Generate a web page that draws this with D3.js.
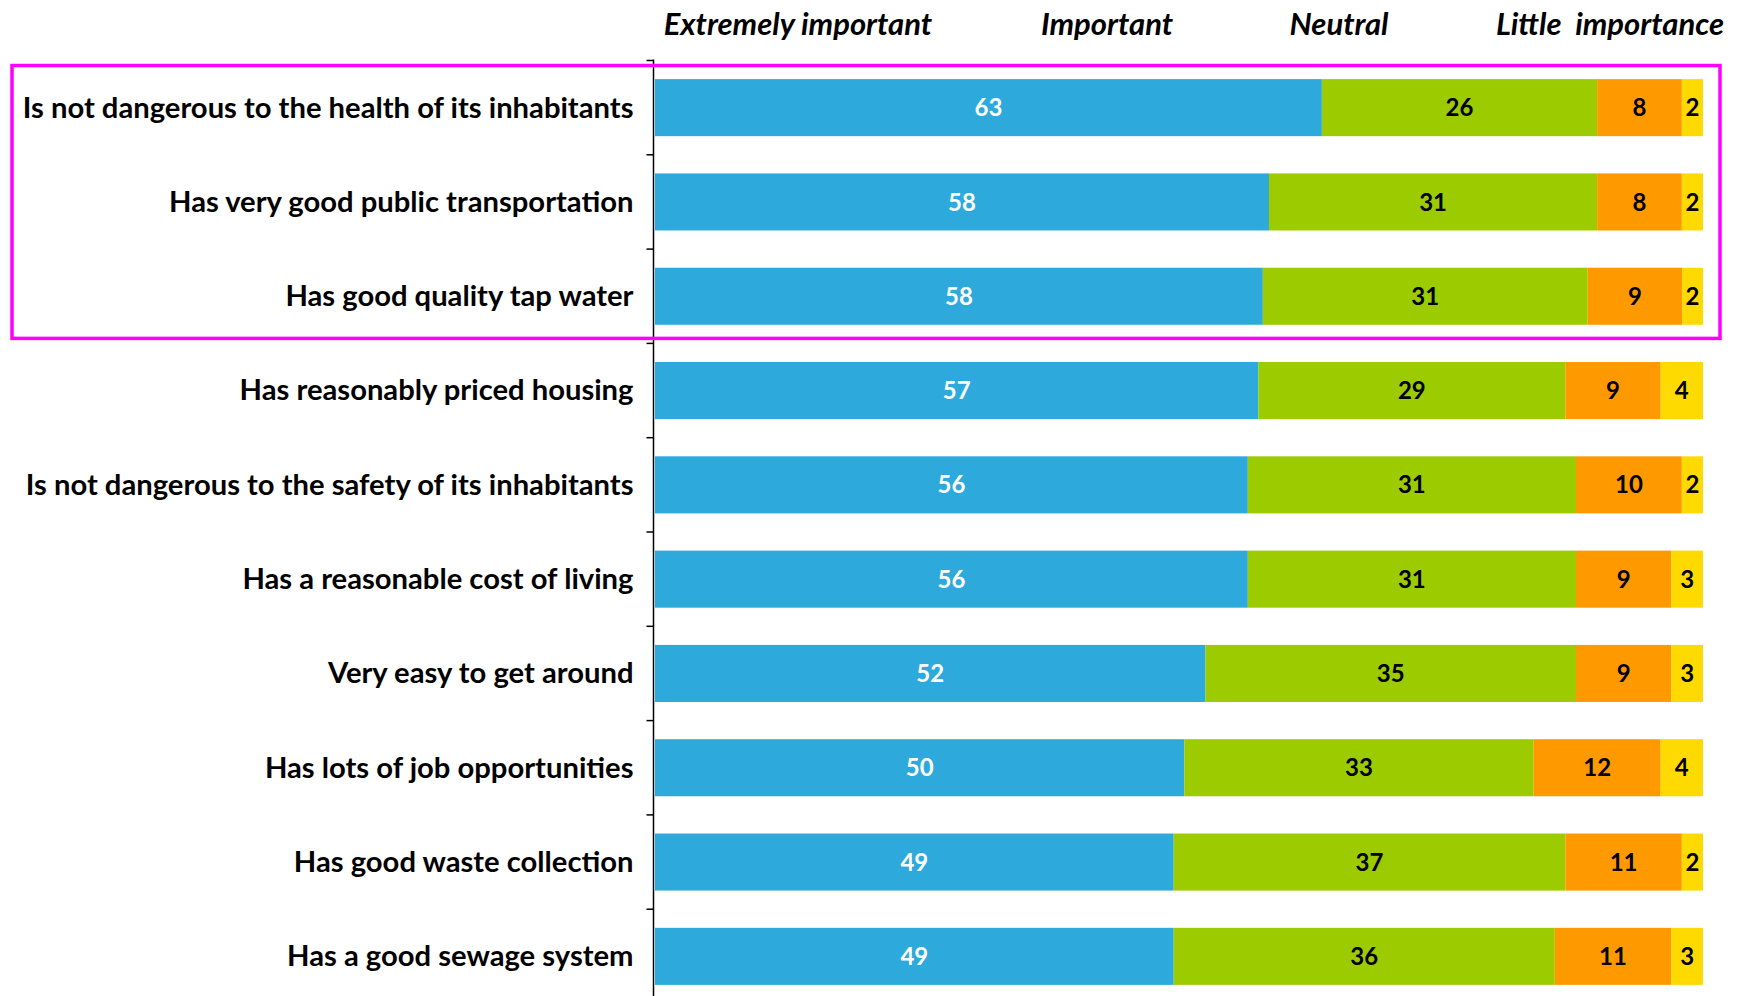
<!DOCTYPE html>
<html><head><meta charset="utf-8">
<script src="https://cdn.jsdelivr.net/npm/d3@7"></script>
<style>
html,body{margin:0;padding:0;background:#fff;}
svg{display:block;}
text{font-family:Lato,"Open Sans",sans-serif;}
</style></head>
<body>
<svg id="chart" width="1743" height="996"></svg>
<script>
const categories = [
  "Is not dangerous to the health of its inhabitants",
  "Has very good public transportation",
  "Has good quality tap water",
  "Has reasonably priced housing",
  "Is not dangerous to the safety of its inhabitants",
  "Has a reasonable cost of living",
  "Very easy to get around",
  "Has lots of job opportunities",
  "Has good waste collection",
  "Has a good sewage system"
];
const seriesNames = ["Extremely important", "Important", "Neutral", "Little  importance"];
const extremelyImportant = [63, 58, 58, 57, 56, 56, 52, 50, 49, 49];
const important          = [26, 31, 31, 29, 31, 31, 35, 33, 37, 36];
const neutral            = [ 8,  8,  9,  9, 10,  9,  9, 12, 11, 11];
const littleImportance   = [ 2,  2,  2,  4,  2,  3,  3,  4,  2,  3];
const highlighted = categories.slice(0, 3);

const colors = ["#2EA9DC", "#9CCB00", "#FF9900", "#FFDA00"];
const labelColors = ["#ffffff", "#000000", "#000000", "#000000"];
const legendX = [798, 1107, 1339, 1610];

(function () {
const rows = categories.map((c, i) => ({
  cat: c,
  s0: extremelyImportant[i], s1: important[i], s2: neutral[i], s3: littleImportance[i]
}));
const keys = ["s0", "s1", "s2", "s3"];
const stacked = d3.stack().keys(keys).offset(d3.stackOffsetExpand)(rows);

const svg = d3.select("#chart");
const plotLeft = 655, plotRight = 1703, plotTop = 60.5, step = 94.3;
const x = d3.scaleLinear().domain([0, 1]).range([plotLeft, plotRight]);
const y = d3.scaleBand().domain(categories).range([plotTop, plotTop + step * categories.length])
  .paddingInner(0.395).paddingOuter(0.1975);

// bars
const g = svg.append("g");
stacked.forEach((layer, li) => {
  g.selectAll(null).data(layer).enter().append("rect")
    .attr("x", d => x(d[0]))
    .attr("y", d => y(d.data.cat))
    .attr("width", d => x(d[1]) - x(d[0]))
    .attr("height", y.bandwidth())
    .attr("fill", colors[li]);
  g.selectAll(null).data(layer).enter().append("text")
    .attr("x", d => (x(d[0]) + x(d[1])) / 2)
    .attr("y", d => y(d.data.cat) + y.bandwidth() / 2)
    .attr("dy", "0.36em")
    .attr("text-anchor", "middle")
    .attr("font-weight", 700)
    .attr("font-size", 24)
    .attr("fill", labelColors[li])
    .text(d => d.data[keys[li]]);
});

// axis
const axis = d3.axisLeft(y).tickSize(0).tickPadding(20);
const ag = svg.append("g").attr("transform", `translate(${plotLeft - 1.5},0)`).call(axis);
ag.select(".domain").attr("stroke", "#000").attr("stroke-width", 1.5)
  .attr("d", `M0,${plotTop - 1}V996`);
ag.selectAll(".tick text").attr("font-size", 29.2).attr("font-weight", 700)
  .attr("fill", "#000").attr("font-family", "Lato, sans-serif").attr("dy", "0.34em");
const bounds = categories.map(c => y(c) - (y.step() - y.bandwidth()) / 2);
ag.selectAll(".btick").data(bounds).enter().append("line")
  .attr("x1", -7).attr("x2", 0).attr("y1", d => d).attr("y2", d => d)
  .attr("stroke", "#000").attr("stroke-width", 1.5);

// legend (header)
svg.append("g").selectAll("text").data(seriesNames).enter().append("text")
  .attr("x", (d, i) => legendX[i]).attr("y", 35)
  .attr("text-anchor", "middle")
  .attr("font-size", 31).attr("font-weight", 700).attr("font-style", "italic")
  .attr("fill", "#000")
  .style("white-space", "pre")
  .text(d => d);

// highlight box
const hTop = y(highlighted[0]) - (y.step() - y.bandwidth()) / 2 + 5;
const hBot = y(highlighted[highlighted.length - 1]) + y.bandwidth() + (y.step() - y.bandwidth()) / 2 - 5;
svg.append("rect")
  .attr("x", 12).attr("y", hTop)
  .attr("width", 1720 - 12).attr("height", hBot - hTop)
  .attr("fill", "none").attr("stroke", "#FF00FF").attr("stroke-width", 3.5);
})();
</script>
</body></html>
